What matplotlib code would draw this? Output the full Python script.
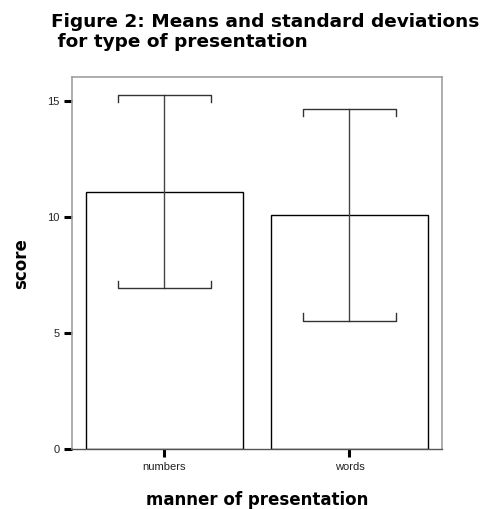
import numpy as np
import matplotlib
matplotlib.use('Agg')
import matplotlib.pyplot as plt

# data
groups = ['numbers', 'words']
means = [11.08, 10.09]
sds = [4.16, 4.56]

plt.rcParams['font.family'] = ['Liberation Sans', 'DejaVu Sans']

fig = plt.figure(figsize=(4.88, 5.09), dpi=100)
ax = fig.add_axes([0.1475, 0.1173, 0.7582, 0.7307])

x = np.arange(len(groups))
ax.bar(x, means, width=0.845, color='white', edgecolor='black', linewidth=1.0, zorder=2)

# error bars with bracket-style caps
cap = 0.25
tip = 0.32
for xi, m, s in zip(x, means, sds):
    lo, hi = m - s, m + s
    ax.plot([xi, xi], [lo, hi], color='#444444', lw=1.0, zorder=3)
    ax.plot([xi - cap, xi - cap, xi + cap, xi + cap], [hi - tip, hi, hi, hi - tip],
            color='#333333', lw=1.0, zorder=3)
    ax.plot([xi - cap, xi - cap, xi + cap, xi + cap], [lo + tip, lo, lo, lo + tip],
            color='#333333', lw=1.0, zorder=3)

ax.set_xlim(-0.5, 1.5)
ax.set_ylim(0, 16)
ax.set_yticks([0, 5, 10, 15])
ax.set_xticks(x)
ax.set_xticklabels(groups)

for side in ['left', 'top', 'right']:
    ax.spines[side].set_color('#a0a0a0')
    ax.spines[side].set_linewidth(1.2)
ax.spines['bottom'].set_color('#555555')
ax.spines['bottom'].set_linewidth(1.0)

ax.tick_params(axis='both', direction='out', length=6, width=2.2, color='black',
               labelsize=8, labelcolor='#222222', pad=3)

bold = ['DejaVu Sans']
ax.set_ylabel('score', fontsize=12, fontweight='bold', family=bold, labelpad=12)
ax.set_xlabel('manner of presentation', fontsize=12, fontweight='bold', family=bold,
              labelpad=14)

fig.text(0.104, 0.975, 'Figure 2: Means and standard deviations\n for type of presentation',
         fontsize=13.3, fontweight='bold', family=bold, ha='left', va='top',
         linespacing=1.15)

fig.savefig('out.png', dpi=100)
